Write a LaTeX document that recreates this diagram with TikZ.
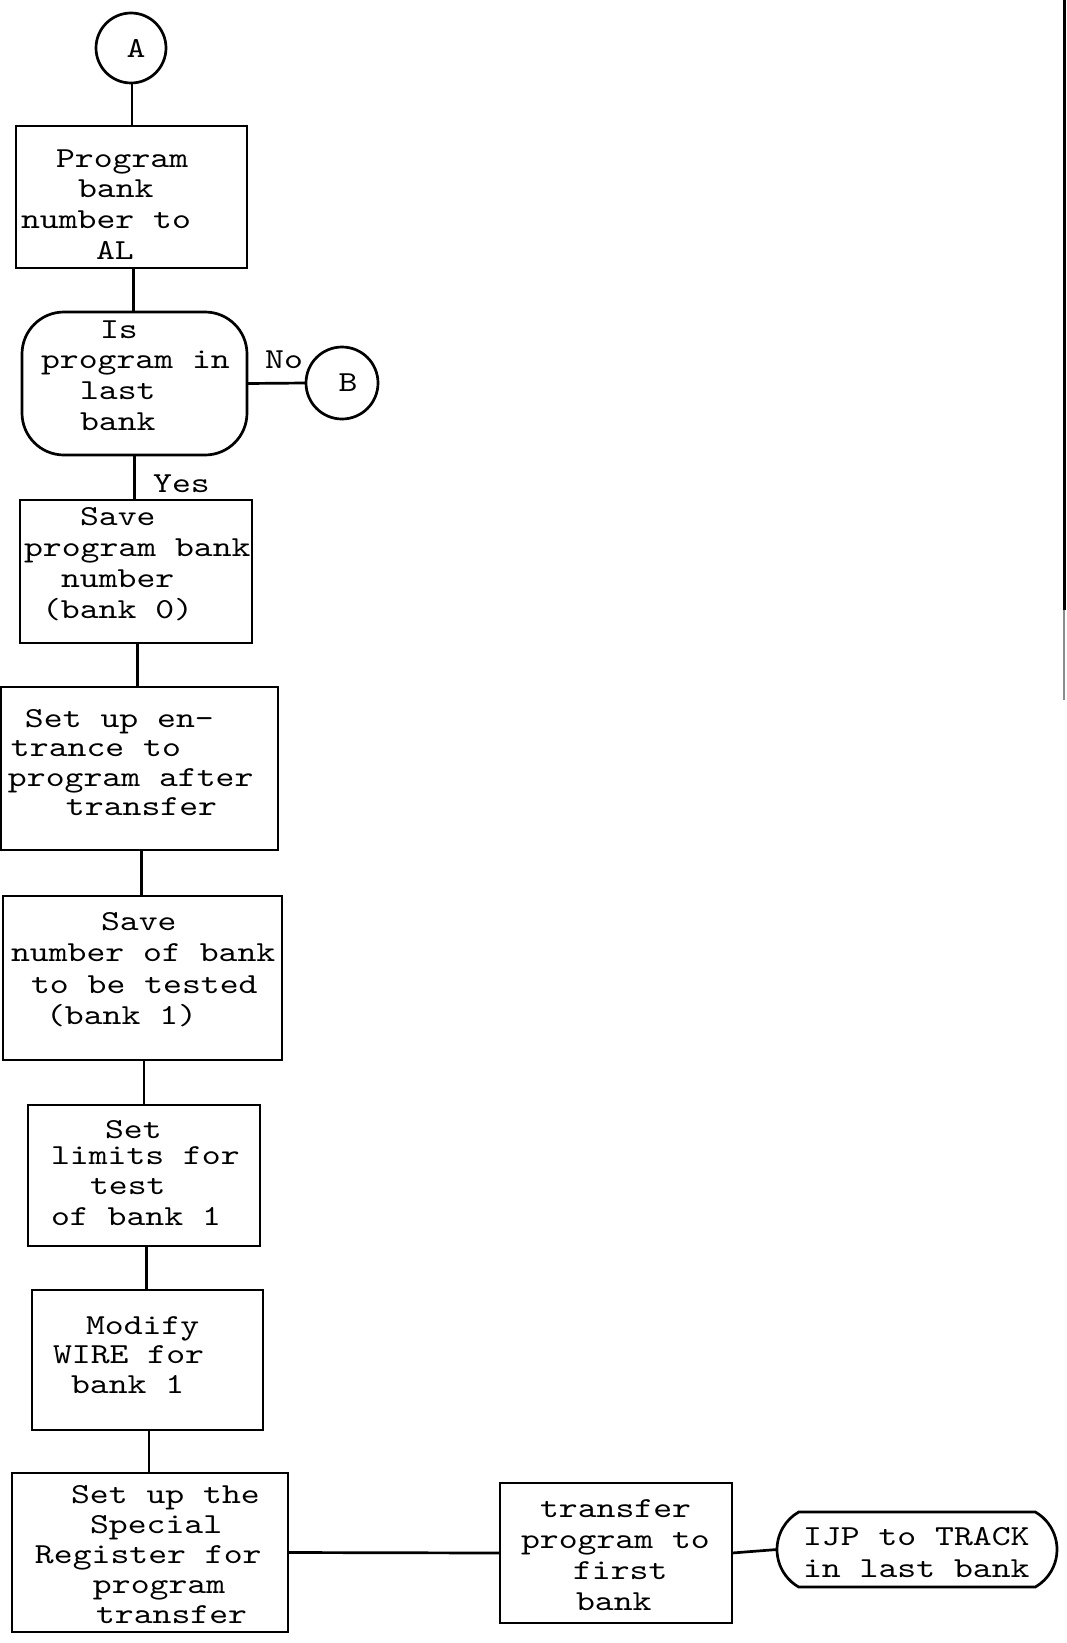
\documentclass[tikz,border=0pt]{standalone}
\usepackage{fontspec}
\usetikzlibrary{shapes.misc}
\newfontfamily\tw[Extension=.otf,FakeStretch=1.24]{lmmono10-regular}
\newcommand\fl{\rule{0pt}{28pt}}
\newcommand\ws{\hspace*{18.88pt}}
\tikzset{
  bx/.style={draw, line width=2.7pt, rectangle, inner sep=0pt, outer sep=0pt, anchor=north west},
  tx/.style={anchor=north west, inner sep=0pt, outer sep=0pt, align=left, font=\tw\fontsize{29pt}{#1}\selectfont},
  tx/.default=30.7pt,
  lab/.style={inner sep=0pt, font=\tw\fontsize{29pt}{29pt}\selectfont},
  ln/.style={line width=2.7pt},
  conn/.style={draw, circle, line width=2.7pt, inner sep=0pt, outer sep=0pt, font=\tw\fontsize{29pt}{29pt}\selectfont},
}
\begin{document}
\begin{tikzpicture}[x=1pt,y=-1pt]
\fill[white] (0,0) rectangle (1067,1643);
\useasboundingbox (0,0) rectangle (1067,1643);

% connector circles
\node[conn, minimum size=70pt] (A) at (131,48) {\hspace*{10pt}A};
\node[conn, minimum size=72pt] (B) at (342,383) {\hspace*{12pt}B};

% boxes
\node[bx, minimum width=231pt, minimum height=142pt] (P) at (16,126) {};
\node[tx=30.7pt, text width=231pt] (Pt) at (16,139) {\fl\hspace*{40pt}Program\\ \hspace*{62pt}bank\\ \hspace*{5pt}number\ws to\\ \hspace*{80pt}AL};

\node[bx, rounded corners=42pt, minimum width=225pt, minimum height=143pt] (D) at (22,312) {};
\node[tx=30.7pt, text width=225pt] (Dt) at (22,310) {\fl\hspace*{78pt}Is\\ \hspace*{19pt}program\ws in\\ \hspace*{58pt}last\\ \hspace*{58pt}bank};

\node[bx, minimum width=232pt, minimum height=143pt] (S1) at (20,500) {};
\node[tx=31pt, text width=232pt] (S1t) at (20,497) {\fl\hspace*{60pt}Save\\ \hspace*{4pt}program\ws bank\\ \hspace*{41pt}number\\ \hspace*{22pt}(bank\ws 0)};

\node[bx, minimum width=277pt, minimum height=163pt] (S2) at (1,687) {};
\node[tx=29.5pt, text width=277pt] (S2t) at (1,699) {\fl\hspace*{24pt}Set\ws up\ws en-\\ \hspace*{10pt}trance\ws to\\ \hspace*{7pt}program\ws after\\ \hspace*{65pt}transfer};

\node[bx, minimum width=279pt, minimum height=164pt] (S3) at (3,896) {};
\node[tx=31.5pt, text width=279pt] (S3t) at (3,902) {\fl\hspace*{98pt}Save\\ \hspace*{8pt}number\ws of\ws bank\\ \hspace*{28pt}to\ws be\ws tested\\ \hspace*{43pt}(bank\ws 1)};

\node[bx, minimum width=232pt, minimum height=141pt] (S4) at (28,1105) {};
\node[tx=30.5pt, text width=232pt] (S4t) at (28,1110) {\fl\hspace*{77pt}Set\\[-4.5pt] \hspace*{23pt}limits\ws for\\ \hspace*{62pt}test\\ \hspace*{23pt}of\ws bank\ws 1};

\node[bx, minimum width=231pt, minimum height=140pt] (S5) at (32,1290) {};
\node[tx=29.5pt, text width=231pt] (S5t) at (32,1306) {\fl\hspace*{54pt}Modify\\ \hspace*{21pt}WIRE\ws for\\ \hspace*{39pt}bank\ws 1};

\node[bx, minimum width=276pt, minimum height=159pt] (S6) at (12,1473) {};
\node[tx=30pt, text width=276pt] (S6t) at (12,1475) {\fl\hspace*{59pt}Set\ws up\ws the\\ \hspace*{78pt}Special\\ \hspace*{23pt}Register\ws for\\ \hspace*{81pt}program\\ \hspace*{84pt}transfer};

\node[bx, minimum width=232pt, minimum height=140pt] (T) at (500,1483) {};
\node[tx=31pt, text width=232pt] (Tt) at (500,1489) {\fl\hspace*{40pt}transfer\\ \hspace*{21pt}program\ws to\\ \hspace*{73pt}first\\ \hspace*{76pt}bank};

\node[draw, line width=2.7pt, rounded rectangle, rounded rectangle arc length=120, minimum width=280pt, minimum height=75pt, inner sep=0pt, outer sep=0pt] (E) at (917,1549.5) {};
\node[tx=32pt, text width=280pt] (Et) at (777,1517) {\fl\hspace*{26pt}IJP\ws to\ws TRACK\\ \hspace*{26pt}in\ws last\ws bank};

% labels
\node[lab, anchor=base west] (no) at (265,368) {No};
\node[lab, anchor=base west] (yes) at (153,492) {Yes};

% connectors
\draw[ln] ([xshift=1pt]A.south) -- ([xshift=1pt]A.south |- P.north);
\draw[ln] ([xshift=2pt]P.south) -- ([xshift=2pt]P.south |- D.north);
\draw[ln] (D.east) -- (B.west);
\draw[ln] (D.south) -- (D.south |- S1.north);
\draw[ln] ([xshift=1.5pt]S1.south) -- ([xshift=1.5pt]S1.south |- S2.north);
\draw[ln] ([xshift=2pt]S2.south) -- ([xshift=2pt]S2.south |- S3.north);
\draw[ln] ([xshift=1.5pt]S3.south) -- ([xshift=1.5pt]S3.south |- S4.north);
\draw[ln] ([xshift=2.5pt]S4.south) -- ([xshift=2.5pt]S4.south |- S5.north);
\draw[ln] ([xshift=1.5pt]S5.south) -- ([xshift=1.5pt]S5.south |- S6.north);
\draw[ln] (S6.east) -- (T.west);
\draw[ln] (T.east) -- (E.west);

% page edge line
\draw[line width=3pt] (1064,0) -- (1064,610);
\draw[line width=1.5pt, black!45] (1064,610) -- (1064,700);
\end{tikzpicture}
\end{document}
